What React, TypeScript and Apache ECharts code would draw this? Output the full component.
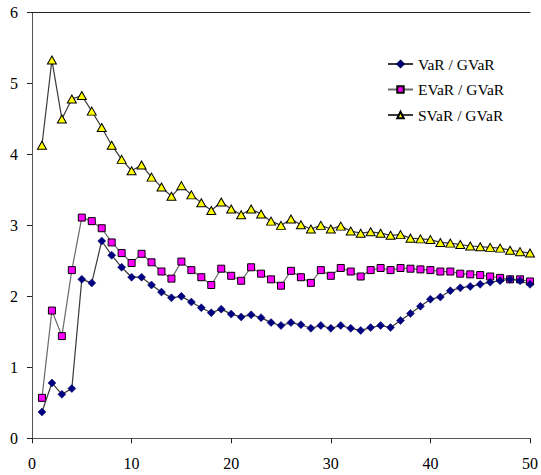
import React, { useEffect, useRef } from "react";
import * as echarts from "echarts";

const xValues = [
  1, 2, 3, 4, 5, 6, 7, 8, 9, 10,
  11, 12, 13, 14, 15, 16, 17, 18, 19, 20,
  21, 22, 23, 24, 25, 26, 27, 28, 29, 30,
  31, 32, 33, 34, 35, 36, 37, 38, 39, 40,
  41, 42, 43, 44, 45, 46, 47, 48, 49, 50,
];

const varRatio = [
  0.37, 0.78, 0.62, 0.70, 2.24, 2.19, 2.78, 2.58, 2.41, 2.27,
  2.27, 2.16, 2.06, 1.98, 2.00, 1.92, 1.84, 1.77, 1.82, 1.75,
  1.71, 1.74, 1.70, 1.63, 1.59, 1.63, 1.60, 1.55, 1.59, 1.55,
  1.59, 1.55, 1.52, 1.56, 1.59, 1.56, 1.66, 1.76, 1.86, 1.96,
  1.99, 2.08, 2.12, 2.14, 2.17, 2.20, 2.22, 2.24, 2.22, 2.17,
];

const evarRatio = [
  0.57, 1.80, 1.44, 2.37, 3.11, 3.06, 2.96, 2.76, 2.61, 2.47,
  2.60, 2.48, 2.35, 2.25, 2.49, 2.37, 2.27, 2.16, 2.39, 2.29,
  2.22, 2.41, 2.32, 2.24, 2.15, 2.36, 2.27, 2.19, 2.37, 2.29,
  2.40, 2.35, 2.28, 2.37, 2.40, 2.37, 2.40, 2.39, 2.38, 2.37,
  2.35, 2.35, 2.32, 2.31, 2.30, 2.28, 2.26, 2.24, 2.24, 2.21,
];

const svarRatio = [
  4.13, 5.33, 4.50, 4.78, 4.83, 4.61, 4.38, 4.13, 3.93, 3.77,
  3.85, 3.68, 3.54, 3.41, 3.56, 3.43, 3.32, 3.21, 3.33, 3.23,
  3.15, 3.23, 3.16, 3.06, 3.00, 3.09, 3.01, 2.95, 3.00, 2.95,
  2.99, 2.92, 2.89, 2.91, 2.89, 2.86, 2.87, 2.82, 2.81, 2.80,
  2.76, 2.75, 2.73, 2.71, 2.70, 2.69, 2.68, 2.65, 2.63, 2.61,
];

const seriesNames = ["VaR / GVaR", "EVaR / GVaR", "SVaR / GVaR"];

const FONT = "Liberation Serif";

function pairs(ys: number[]) {
  return xValues.map((x, i) => [x, ys[i]]);
}

export default function App() {
  const ref = useRef<HTMLDivElement>(null);

  useEffect(() => {
    if (!ref.current) return;
    const chart = echarts.init(ref.current, undefined, { renderer: "svg" });
    chart.setOption({
      animation: false,
      backgroundColor: "#ffffff",
      textStyle: { fontFamily: FONT },
      grid: { left: 32, right: 9, top: 12.5, bottom: 36.7, containLabel: false },
      legend: {
        orient: "vertical",
        left: 382,
        top: 51,
        itemWidth: 25,
        itemHeight: 8,
        itemGap: 9.5,
        textStyle: { fontFamily: FONT, fontSize: 15.5, color: "#000" },
        data: seriesNames,
      },
      xAxis: [
        {
          type: "value",
          min: 0,
          max: 50,
          interval: 10,
          axisLine: { show: true, lineStyle: { color: "#555", width: 1 } },
          axisTick: { show: true, length: 5, lineStyle: { color: "#222" } },
          axisLabel: { fontFamily: FONT, fontSize: 16, color: "#000", margin: 17 },
          splitLine: { show: false },
        },
        {
          type: "value",
          position: "top",
          min: 0,
          max: 50,
          interval: 10,
          axisLine: { show: true, onZero: false, lineStyle: { color: "#222", width: 1 } },
          axisTick: { show: false },
          axisLabel: { show: false },
          splitLine: { show: false },
        },
      ],
      yAxis: {
        type: "value",
        min: 0,
        max: 6,
        interval: 1,
        axisLine: { show: true, lineStyle: { color: "#555", width: 1 } },
        axisTick: { show: true, length: 5, lineStyle: { color: "#222" } },
        axisLabel: { fontFamily: FONT, fontSize: 16, color: "#000", margin: 14 },
        splitLine: { show: false },
      },
      series: [
        {
          name: seriesNames[0],
          type: "line",
          data: pairs(varRatio),
          symbol: "diamond",
          symbolSize: 8,
          lineStyle: { color: "#3a3a3a", width: 1.2 },
          itemStyle: { color: "#000080", borderColor: "#000060", borderWidth: 0.5 },
          z: 3,
        },
        {
          name: seriesNames[1],
          type: "line",
          data: pairs(evarRatio),
          symbol: "rect",
          symbolSize: 7,
          lineStyle: { color: "#6a6a6a", width: 1.2 },
          itemStyle: { color: "#ff00ff", borderColor: "#000", borderWidth: 1 },
          z: 2,
        },
        {
          name: seriesNames[2],
          type: "line",
          data: pairs(svarRatio),
          symbol: "triangle",
          symbolSize: [9, 8],
          lineStyle: { color: "#3a3a3a", width: 1.2 },
          itemStyle: { color: "#ffff00", borderColor: "#000", borderWidth: 1 },
          z: 2,
        },
      ],
    });
    return () => chart.dispose();
  }, []);

  return (
    <div
      ref={ref}
      style={{ position: "fixed", left: 0, top: 0, width: 541, height: 475, background: "#fff" }}
    />
  );
}
